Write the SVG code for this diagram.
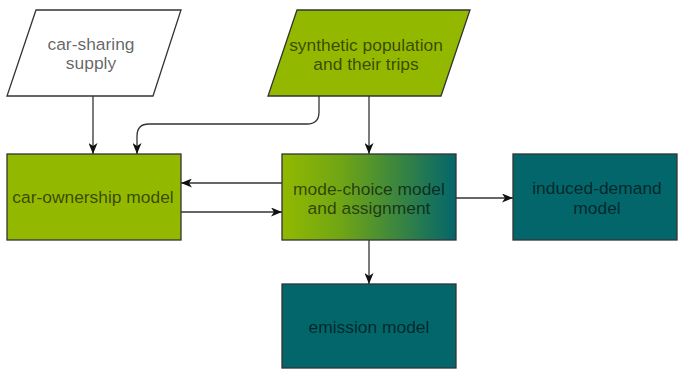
<svg xmlns="http://www.w3.org/2000/svg" width="680" height="370" viewBox="0 0 680 370">
  <style>
    .shape { stroke: #333333; stroke-width: 1.3; }
    .white { fill: #ffffff; }
    .green { fill: #92b900; }
    .teal { fill: #03666b; }
    .label { font-family: "Liberation Sans", Arial, sans-serif; font-size: 17.4px; fill: #000000; fill-opacity: 0.62; text-anchor: middle; dominant-baseline: central; }
    .edge { fill: none; stroke: #333333; stroke-width: 1.3; marker-end: url(#arrow); }
  </style>
  <defs>
    <marker id="arrow" markerUnits="userSpaceOnUse" viewBox="0 0 11 9" refX="11" refY="4.5" markerWidth="11" markerHeight="9" orient="auto">
      <path d="M0,0 L11,4.5 L0,9 L3,4.5 z" fill="#111111"/>
    </marker>
    <linearGradient id="modeFill" x1="0" y1="0" x2="1" y2="0">
      <stop offset="0" stop-color="#92b900"/>
      <stop offset="0.35" stop-color="#6fa416"/>
      <stop offset="1" stop-color="#03666b"/>
    </linearGradient>
  </defs>

  <rect width="680" height="370" fill="#ffffff"/>

  <g id="edges">
    <path class="edge" d="M93 96 V154"/>
    <path class="edge" d="M319 96 V112 Q319 124 307 124 H149 Q137 124 137 136 V154"/>
    <path class="edge" d="M369 96 V154"/>
    <path class="edge" d="M282 183 H181"/>
    <path class="edge" d="M181 212 H282"/>
    <path class="edge" d="M456 198 H513"/>
    <path class="edge" d="M369 240 V284"/>
  </g>

  <g id="car-sharing-supply">
    <polygon class="shape white" points="36,10 181,10 153,96 7,96"/>
    <text class="label" x="91" y="44">car-sharing</text>
    <text class="label" x="91" y="63">supply</text>
  </g>

  <g id="synthetic-population">
    <polygon class="shape green" points="297,10 470,10 441,96 268,96"/>
    <text class="label" x="366" y="45">synthetic population</text>
    <text class="label" x="366" y="64">and their trips</text>
  </g>

  <g id="car-ownership-model">
    <rect class="shape green" x="7" y="154" width="174" height="86"/>
    <text class="label" x="93" y="197">car-ownership model</text>
  </g>

  <g id="mode-choice-model">
    <rect class="shape" fill="url(#modeFill)" x="282" y="154" width="174" height="86"/>
    <text class="label" x="369" y="189">mode-choice model</text>
    <text class="label" x="369" y="208">and assignment</text>
  </g>

  <g id="induced-demand-model">
    <rect class="shape teal" x="513" y="154" width="164" height="86"/>
    <text class="label" x="597" y="188">induced-demand</text>
    <text class="label" x="597" y="208">model</text>
  </g>

  <g id="emission-model">
    <rect class="shape teal" x="282" y="284" width="174" height="84"/>
    <text class="label" x="369" y="327">emission model</text>
  </g>
</svg>
